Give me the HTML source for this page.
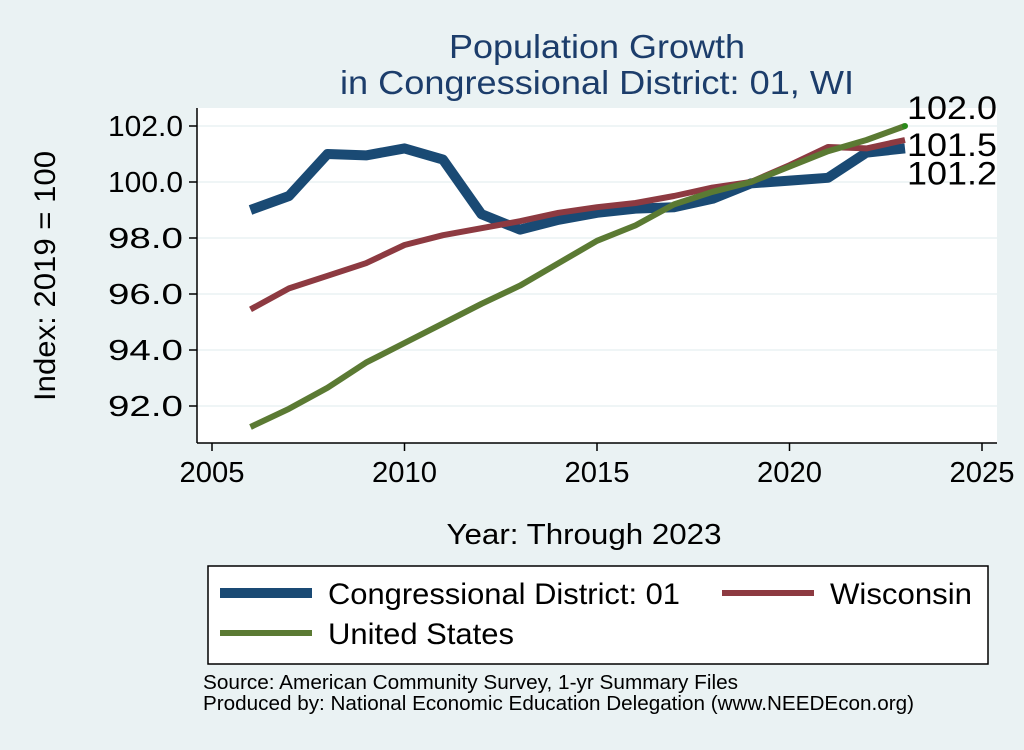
<!DOCTYPE html>
<html><head><meta charset="utf-8"><style>
body{margin:0;background:#eaf2f3;font-family:"Liberation Sans",sans-serif}
svg text{font-family:"Liberation Sans",sans-serif}
</style></head><body>
<svg id="c" width="1024" height="745" xmlns="http://www.w3.org/2000/svg">
<rect width="1024" height="745" fill="#eaf2f3"/>
<text x="597" y="58" font-size="33" fill="#1c3d6b" text-anchor="middle" textLength="296" lengthAdjust="spacingAndGlyphs">Population Growth</text>
<text x="597" y="94" font-size="33" fill="#1c3d6b" text-anchor="middle" textLength="514" lengthAdjust="spacingAndGlyphs">in Congressional District: 01, WI</text>
<rect x="197" y="108" width="800" height="335" fill="#fff"/>
<g id="grid"></g><g id="axes"></g><g id="series"></g>
<text x="55" y="276" font-size="30" text-anchor="middle" textLength="250" lengthAdjust="spacingAndGlyphs" transform="rotate(-90 55 276)">Index: 2019 = 100</text>
<text x="584" y="544" font-size="29" text-anchor="middle" textLength="275" lengthAdjust="spacingAndGlyphs">Year: Through 2023</text>
<g>
<rect x="208" y="566" width="780" height="98" fill="#fff" stroke="#000" stroke-width="1.5"/>
<line x1="220" y1="593" x2="312" y2="593" stroke="#1a4a74" stroke-width="10"/>
<text x="328" y="604" font-size="30" textLength="352" lengthAdjust="spacingAndGlyphs">Congressional District: 01</text>
<line x1="722" y1="593" x2="814" y2="593" stroke="#8d3a41" stroke-width="6"/>
<text x="830" y="604" font-size="30" textLength="142" lengthAdjust="spacingAndGlyphs">Wisconsin</text>
<line x1="220" y1="633" x2="312" y2="633" stroke="#5b7a33" stroke-width="6"/>
<text x="328" y="644" font-size="30" textLength="186" lengthAdjust="spacingAndGlyphs">United States</text>
</g>
<text x="203" y="689" font-size="20" textLength="535" lengthAdjust="spacingAndGlyphs">Source: American Community Survey, 1-yr Summary Files</text>
<text x="203" y="710" font-size="20" textLength="711" lengthAdjust="spacingAndGlyphs">Produced by: National Economic Education Delegation (www.NEEDEcon.org)</text>
</svg>
<script>
const years=[2006,2007,2008,2009,2010,2011,2012,2013,2014,2015,2016,2017,2018,2019,2020,2021,2022,2023];
const district=[99.0,99.5,101.0,100.95,101.2,100.8,98.85,98.3,98.65,98.9,99.05,99.1,99.4,99.95,100.05,100.15,101.05,101.2];
const wisconsin=[95.45,96.2,96.65,97.1,97.75,98.1,98.35,98.6,98.9,99.1,99.25,99.5,99.8,100.0,100.6,101.25,101.2,101.5];
const unitedStates=[91.25,91.9,92.65,93.55,94.25,94.95,95.65,96.3,97.1,97.9,98.45,99.2,99.65,100.0,100.55,101.1,101.5,102.0];
const xTicks=[2005,2010,2015,2020,2025];
const yTicks=[92,94,96,98,100,102];
const NS="http://www.w3.org/2000/svg";
const X=v=>212+(v-2005)*38.5;
const Y=v=>182-(v-100)*28;
function mk(t,a,p){const e=document.createElementNS(NS,t);for(const k in a)e.setAttribute(k,a[k]);p.appendChild(e);return e;}
const grid=document.getElementById('grid'),axes=document.getElementById('axes'),ser=document.getElementById('series');
yTicks.forEach(v=>{
 const g=mk('line',{x1:197,x2:997,y1:Y(v),y2:Y(v),stroke:'#eaf2f3','stroke-width':1.5},grid);
 
 
 mk('line',{x1:189,x2:197,y1:Y(v),y2:Y(v),stroke:'#000','stroke-width':1.5},axes);
 const t=mk('text',{x:183,y:Y(v)+10,'font-size':29,'text-anchor':'end',textLength:75,lengthAdjust:'spacingAndGlyphs'},axes);t.textContent=v.toFixed(1);
 
 
});
mk('line',{x1:197,x2:197,y1:108,y2:443,stroke:'#000','stroke-width':1.5},axes);
mk('line',{x1:197,x2:997,y1:443,y2:443,stroke:'#000','stroke-width':1.5},axes);
xTicks.forEach(v=>{
 mk('line',{x1:X(v),x2:X(v),y1:443,y2:451,stroke:'#000','stroke-width':1.5},axes);
 const t=mk('text',{x:X(v),y:482,'font-size':29,'text-anchor':'middle',textLength:65,lengthAdjust:'spacingAndGlyphs'},axes);t.textContent=v;
 
 
});
function line(vals,col,w,name){
 const p=mk('polyline',{points:vals.map((v,i)=>X(years[i])+','+Y(v)).join(' '),fill:'none',stroke:col,'stroke-width':w,'stroke-linejoin':'round'},ser);
 
 
}
line(district,'#1a4a74',10,'line-district');
line(wisconsin,'#8d3a41',6,'line-wisconsin');
line(unitedStates,'#5b7a33',6,'line-us');
const last=years.length-1;
mk('circle',{cx:X(years[last]),cy:Y(unitedStates[last]),r:3,fill:'#2a8a1a'},ser);
const labs=[[unitedStates[last],Y(unitedStates[last])-7,'end-label-us'],[wisconsin[last],Y(wisconsin[last])+16,'end-label-wisconsin'],[district[last],Y(district[last])+36,'end-label-district']];
labs.forEach(([v,y,n])=>{
 const t=mk('text',{x:907,y:y,'font-size':32,textLength:90,lengthAdjust:'spacingAndGlyphs'},ser);t.textContent=v.toFixed(1);
 
 
});
</script>
</body></html>
